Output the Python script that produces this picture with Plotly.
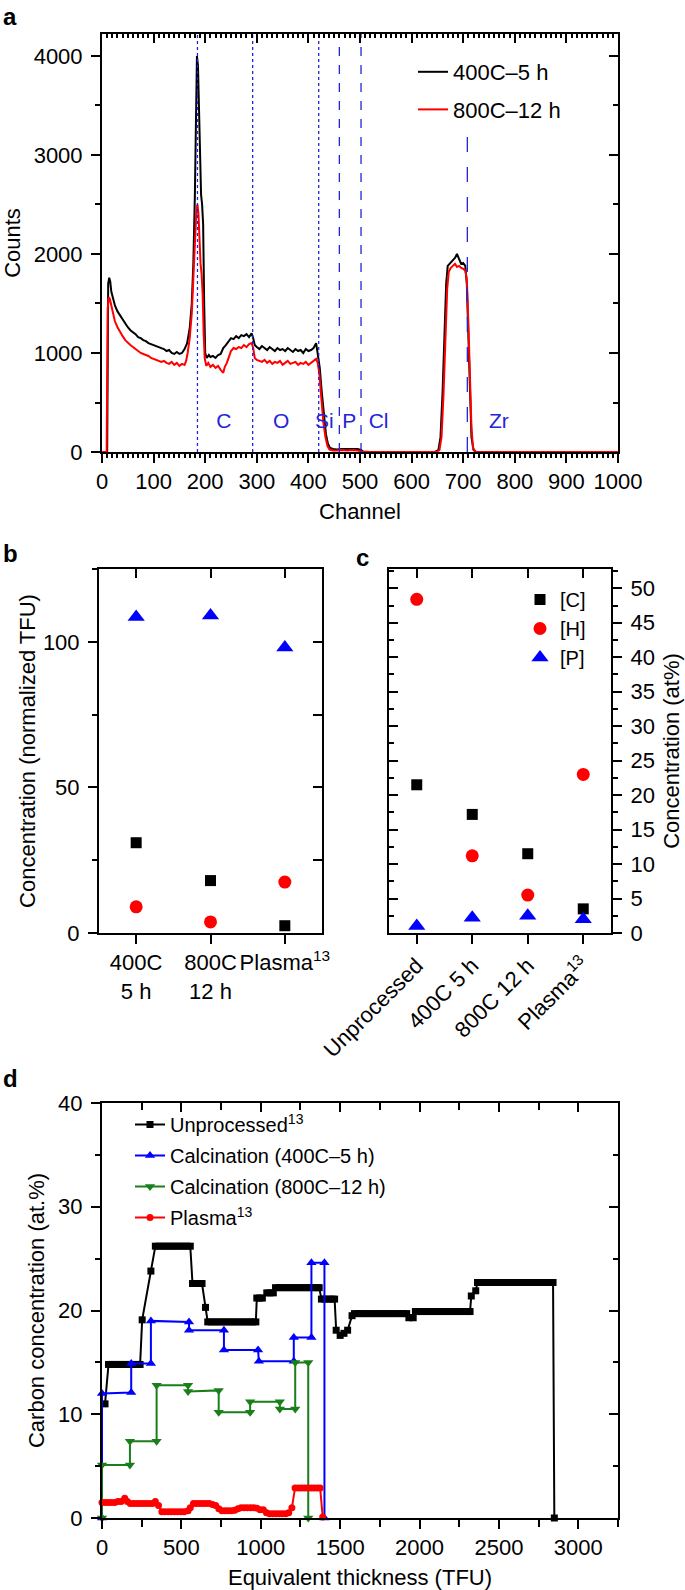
import plotly.graph_objects as go

W, H = 685, 1590


def px(x):
    return x / W


def py(y):
    return 1 - y / H


# ---------------- Panel a: RBS spectra ----------------
ch_400 = [0, 10, 12, 14, 16, 18, 21, 25, 30, 35,
          40, 45, 50, 55, 60, 65, 70, 75, 80, 85,
          90, 95, 100, 105, 110, 115, 120, 125, 130, 135,
          140, 145, 150, 155, 160, 165, 170, 174, 177, 180,
          182, 184, 186, 188, 190, 192, 194, 196, 198, 200,
          203, 207, 210, 215, 220, 225, 230, 235, 240, 245,
          250, 255, 260, 265, 270, 275, 280, 285, 290, 293,
          296, 300, 305, 310, 315, 320, 325, 330, 335, 340,
          345, 350, 355, 360, 365, 370, 375, 380, 385, 390,
          395, 400, 405, 410, 415, 418, 422, 426, 430, 434,
          438, 442, 448, 455, 465, 475, 485, 495, 502, 506,
          520, 600, 645, 652, 656, 660, 664, 667, 670, 675,
          680, 684, 688, 692, 696, 700, 704, 707, 710, 713,
          716, 720, 725, 1000]
cnt_400 = [0, 0, 1700, 1760, 1720, 1620, 1560, 1480, 1420, 1380,
           1330, 1290, 1260, 1230, 1210, 1190, 1160, 1150, 1130, 1120,
           1100, 1090, 1080, 1070, 1060, 1050, 1040, 1020, 1030, 1000,
           990, 1010, 990, 1000, 1040, 1100, 1250, 1500, 1900, 2600,
           3400, 4000, 3900, 3500, 3000, 2600, 2500, 2300, 1500, 1000,
           950, 980, 960, 970, 950, 980, 990, 1050, 1080, 1120,
           1150, 1140, 1170, 1150, 1180, 1170, 1190, 1160, 1200, 1150,
           1080, 1060, 1040, 1070, 1050, 1030, 1060, 1040, 1020, 1050,
           1030, 1040, 1020, 1050, 1030, 1010, 1040, 1020, 1030, 1000,
           1040, 1020, 1030, 1050, 1100, 1000, 850, 600, 350, 180,
           80, 40, 30, 25, 30, 30, 25, 30, 20, 5,
           0, 0, 0, 20, 150, 600, 1200, 1700, 1880, 1910,
           1940, 1960, 2000, 1940, 1900, 1910, 1880, 1700, 1100, 500,
           150, 20, 0, 0]

ch_800 = [0, 9, 11, 13, 15, 18, 21, 25, 30, 35,
          40, 45, 50, 55, 60, 65, 70, 75, 80, 85,
          90, 95, 100, 105, 110, 115, 120, 125, 130, 135,
          140, 145, 150, 155, 160, 163, 166, 170, 174, 177,
          180, 183, 185, 187, 189, 191, 193, 195, 197, 199,
          202, 206, 210, 215, 220, 225, 230, 235, 238, 242,
          246, 250, 255, 260, 265, 270, 275, 280, 285, 290,
          293, 296, 300, 305, 310, 315, 320, 325, 330, 335,
          340, 345, 350, 355, 360, 365, 370, 375, 380, 385,
          390, 395, 400, 405, 410, 415, 418, 421, 425, 429,
          433, 437, 441, 448, 455, 465, 475, 485, 495, 502,
          506, 600, 648, 654, 658, 662, 666, 669, 672, 676,
          680, 684, 688, 692, 696, 700, 704, 707, 710, 713,
          716, 719, 724, 1000]
cnt_800 = [0, 0, 1450, 1560, 1550, 1480, 1400, 1320, 1260, 1210,
           1170, 1130, 1100, 1080, 1060, 1040, 1020, 1000, 990, 980,
           970, 950, 940, 930, 920, 910, 920, 900, 890, 910,
           880, 900, 870, 890, 880, 920, 1000, 1150, 1400, 1700,
           2100, 2450, 2500, 2400, 2100, 1900, 1800, 1600, 1200, 950,
           870, 900, 860, 880, 850, 870, 830, 800, 860, 900,
           960, 1020, 1050, 1040, 1060, 1050, 1080, 1060, 1090, 1100,
           1050, 950, 930, 920, 910, 930, 900, 920, 890, 910,
           900, 920, 880, 900, 920, 890, 900, 910, 880, 900,
           890, 910, 880, 900, 920, 940, 900, 800, 550, 300,
           150, 60, 25, 15, 15, 20, 15, 20, 15, 10,
           0, 0, 0, 20, 150, 600, 1200, 1650, 1820, 1860,
           1880, 1900, 1870, 1880, 1860, 1850, 1830, 1750, 1300, 700,
           250, 40, 0, 0]

edge_channels = [185, 292, 420, 460, 502, 708]
edge_top = [4222, 4222, 4222, 4222, 4222, 3330]
edge_dash = ["dot", "dot", "dot", "dash", "dash", "longdash"]
elem_labels = ["C", "O", "Si", "P", "Cl", "Zr"]
elem_ch = [236, 347, 431, 479, 536, 769]
elem_counts = [300, 300, 300, 300, 300, 300]

# ---------------- Panel b ----------------
b_cats = ["400C<br>5 h", "800C<br>12 h", "Plasma<sup>13</sup>"]
b_C = [31, 18, 2.5]
b_H = [9, 3.8, 17.5]
b_P = [108.5, 109, 98]

# ---------------- Panel c ----------------
c_cats = ["Unprocessed", "400C 5 h", "800C 12 h", "Plasma<sup>13</sup>"]
c_C = [21.5, 17.2, 11.5, 3.5]
c_H = [48.4, 11.2, 5.5, 23.0]
c_P = [1.0, 2.2, 2.5, 2.0]

# ---------------- Panel d ----------------
d_unproc_x = [19, 41, 60, 80, 100, 120, 140, 160, 180, 200,
              220, 240, 253, 308, 336, 358, 380, 402, 424, 446,
              468, 490, 512, 534, 556, 570, 590, 610, 630, 652,
              666, 688, 710, 732, 754, 776, 798, 820, 842, 864,
              886, 908, 930, 950, 969, 975, 992, 1010, 1038, 1058,
              1079, 1093, 1115, 1137, 1159, 1181, 1203, 1225, 1247, 1269,
              1291, 1313, 1335, 1357, 1368, 1382, 1404, 1426, 1448, 1465,
              1475, 1500, 1524, 1547, 1575, 1590, 1612, 1634, 1656, 1678,
              1700, 1722, 1744, 1766, 1788, 1810, 1832, 1854, 1876, 1898,
              1919, 1933, 1960, 1974, 1996, 2018, 2040, 2062, 2084, 2106,
              2128, 2150, 2172, 2194, 2216, 2238, 2260, 2282, 2304, 2318,
              2326, 2354, 2365, 2387, 2409, 2431, 2453, 2475, 2497, 2519,
              2541, 2563, 2585, 2607, 2629, 2651, 2673, 2695, 2717, 2739,
              2761, 2783, 2805, 2827, 2841, 2849]
d_unproc_y = [11.0, 14.8, 14.8, 14.8, 14.8, 14.8, 14.8, 14.8, 14.8, 14.8,
              14.8, 14.8, 19.1, 23.8, 26.2, 26.2, 26.2, 26.2, 26.2, 26.2,
              26.2, 26.2, 26.2, 26.2, 26.2, 22.6, 22.6, 22.6, 22.6, 20.3,
              18.9, 18.9, 18.9, 18.9, 18.9, 18.9, 18.9, 18.9, 18.9, 18.9,
              18.9, 18.9, 18.9, 18.9, 18.9, 21.2, 21.2, 21.2, 21.7, 21.7,
              21.7, 22.2, 22.2, 22.2, 22.2, 22.2, 22.2, 22.2, 22.2, 22.2,
              22.2, 22.2, 22.2, 22.2, 22.2, 21.1, 21.1, 21.1, 21.1, 21.1,
              18.1, 17.6, 17.8, 18.1, 19.5, 19.7, 19.7, 19.7, 19.7, 19.7,
              19.7, 19.7, 19.7, 19.7, 19.7, 19.7, 19.7, 19.7, 19.7, 19.7,
              19.7, 19.3, 19.3, 19.9, 19.9, 19.9, 19.9, 19.9, 19.9, 19.9,
              19.9, 19.9, 19.9, 19.9, 19.9, 19.9, 19.9, 19.9, 19.9, 19.9,
              21.4, 21.9, 22.7, 22.7, 22.7, 22.7, 22.7, 22.7, 22.7, 22.7,
              22.7, 22.7, 22.7, 22.7, 22.7, 22.7, 22.7, 22.7, 22.7, 22.7,
              22.7, 22.7, 22.7, 22.7, 22.7, 0.0]

d_c400_x = [0, 0, 184, 184, 308, 308, 548, 548, 768, 768, 983, 988, 1208, 1208, 1319, 1319, 1401, 1401]
d_c400_y = [0, 12.0, 12.1, 14.9, 14.9, 19.0, 18.9, 18.1, 18.1, 16.2, 16.2, 15.1, 15.1, 17.4, 17.4, 24.6, 24.6, 0]

d_c800_x = [0, 0, 176, 176, 344, 344, 542, 542, 735, 735, 933, 933, 1120, 1120, 1217, 1217, 1299, 1299]
d_c800_y = [0, 5.1, 5.1, 7.4, 7.4, 12.8, 12.8, 12.2, 12.3, 10.2, 10.2, 11.2, 11.2, 10.5, 10.5, 15.0, 15.0, 0]

d_plasma_x = [0, 20, 40, 60, 80, 100, 120, 143, 160, 178,
              198, 218, 238, 258, 278, 298, 318, 336, 356, 377,
              397, 417, 437, 457, 477, 497, 517, 542, 556, 576,
              596, 616, 636, 656, 676, 696, 716, 736, 756, 776,
              796, 816, 836, 856, 876, 896, 916, 936, 956, 976,
              996, 1016, 1036, 1056, 1076, 1096, 1116, 1136, 1156, 1176,
              1196, 1216, 1236, 1256, 1276, 1296, 1316, 1336, 1356, 1374,
              1390]
d_plasma_y = [1.5, 1.5, 1.5, 1.5, 1.5, 1.6, 1.6, 1.9, 1.6, 1.4,
              1.4, 1.4, 1.4, 1.4, 1.4, 1.4, 1.4, 1.6, 1.2, 0.6,
              0.6, 0.6, 0.6, 0.6, 0.6, 0.6, 0.6, 0.7, 1.0, 1.4,
              1.4, 1.4, 1.4, 1.4, 1.4, 1.3, 1.2, 0.9, 0.7, 0.7,
              0.7, 0.7, 0.75, 0.9, 1.0, 1.0, 1.0, 1.0, 1.0, 0.95,
              0.8, 0.8, 0.5, 0.4, 0.4, 0.4, 0.4, 0.4, 0.4, 0.5,
              1.0, 2.9, 2.9, 2.9, 2.9, 2.9, 2.9, 2.9, 2.9, 2.9,
              0.1]

BLUE = "#0000ff"
RED = "#ff0000"
GREEN = "#1a7f1a"
EDGE = "#2424d8"
FONT = "Liberation Sans, Arial, Helvetica, sans-serif"
FS = 22
TL = 9

fig = go.Figure()

# ---- panel a traces ----
fig.add_trace(go.Scatter(x=ch_400, y=cnt_400, mode="lines", name="400C–5 h",
                         line=dict(color="black", width=2), xaxis="x", yaxis="y",
                         legend="legend", legendgroup="a1"))
fig.add_trace(go.Scatter(x=ch_800, y=cnt_800, mode="lines", name="800C–12 h",
                         line=dict(color=RED, width=2), xaxis="x", yaxis="y",
                         legend="legend", legendgroup="a2"))
for c, top, dash in zip(edge_channels, edge_top, edge_dash):
    fig.add_trace(go.Scatter(x=[c, c], y=[0, top], mode="lines",
                             line=dict(color=EDGE, width=1.3, dash=dash),
                             xaxis="x", yaxis="y", showlegend=False, hoverinfo="skip"))
fig.add_trace(go.Scatter(x=elem_ch, y=elem_counts, mode="text", text=elem_labels,
                         textfont=dict(color=EDGE, size=21, family=FONT),
                         xaxis="x", yaxis="y", showlegend=False, hoverinfo="skip"))

# ---- panel b traces ----
fig.add_trace(go.Scatter(x=b_cats, y=b_C, mode="markers", xaxis="x3", yaxis="y3",
                         marker=dict(symbol="square", size=11, color="black"),
                         showlegend=False, cliponaxis=False))
fig.add_trace(go.Scatter(x=b_cats, y=b_H, mode="markers", xaxis="x3", yaxis="y3",
                         marker=dict(symbol="circle", size=13, color=RED),
                         showlegend=False, cliponaxis=False))
fig.add_trace(go.Scatter(x=b_cats, y=b_P, mode="markers", xaxis="x3", yaxis="y3",
                         marker=dict(symbol="triangle-up", size=15, color=BLUE),
                         showlegend=False, cliponaxis=False))

# ---- panel c traces ----
fig.add_trace(go.Scatter(x=c_cats, y=c_C, mode="markers", xaxis="x5", yaxis="y5", name="[C]",
                         marker=dict(symbol="square", size=11, color="black"),
                         legend="legend2", cliponaxis=False))
fig.add_trace(go.Scatter(x=c_cats, y=c_H, mode="markers", xaxis="x5", yaxis="y5", name="[H]",
                         marker=dict(symbol="circle", size=13, color=RED),
                         legend="legend2", cliponaxis=False))
fig.add_trace(go.Scatter(x=c_cats, y=c_P, mode="markers", xaxis="x5", yaxis="y5", name="[P]",
                         marker=dict(symbol="triangle-up", size=15, color=BLUE),
                         legend="legend2", cliponaxis=False))

# ---- panel d traces ----
fig.add_trace(go.Scatter(x=d_unproc_x, y=d_unproc_y, mode="lines+markers", name="Unprocessed<sup>13</sup>",
                         line=dict(color="black", width=2), marker=dict(symbol="square", size=7, color="black"),
                         xaxis="x7", yaxis="y7", legend="legend3", legendgroup="d1", cliponaxis=False))
fig.add_trace(go.Scatter(x=d_c400_x, y=d_c400_y, mode="lines+markers", name="Calcination (400C–5 h)",
                         line=dict(color=BLUE, width=2), marker=dict(symbol="triangle-up", size=9, color=BLUE),
                         xaxis="x7", yaxis="y7", legend="legend3", legendgroup="d2", cliponaxis=False))
fig.add_trace(go.Scatter(x=d_c800_x, y=d_c800_y, mode="lines+markers", name="Calcination (800C–12 h)",
                         line=dict(color=GREEN, width=2), marker=dict(symbol="triangle-down", size=9, color=GREEN),
                         xaxis="x7", yaxis="y7", legend="legend3", legendgroup="d3", cliponaxis=False))
fig.add_trace(go.Scatter(x=d_plasma_x, y=d_plasma_y, mode="lines+markers", name="Plasma<sup>13</sup>",
                         line=dict(color=RED, width=2), marker=dict(symbol="circle", size=7, color=RED),
                         xaxis="x7", yaxis="y7", legend="legend3", legendgroup="d4", cliponaxis=False))

# dummy traces so the mirrored (inward-tick) overlay axes are drawn
for xa, ya in [("x2", "y2"), ("x4", "y4"), ("x6", "y6"), ("x8", "y8")]:
    fig.add_trace(go.Scatter(x=[None], y=[None], xaxis=xa, yaxis=ya, showlegend=False, hoverinfo="skip"))


def main_ax(**kw):
    d = dict(showline=True, linewidth=2, linecolor="black", mirror=True,
             ticks="outside", ticklen=TL, tickwidth=2, tickcolor="black",
             showgrid=False, zeroline=False, tickfont=dict(size=FS, family=FONT, color="black"),
             fixedrange=True, automargin=False, ticklabelstandoff=4)
    d.update(kw)
    return d


def over_ax(**kw):
    d = dict(showline=False, ticks="inside", ticklen=TL, tickwidth=2, tickcolor="black",
             showgrid=False, zeroline=False, showticklabels=False, fixedrange=True, automargin=False)
    d.update(kw)
    return d


def minor(dt, ticks, ln=5):
    return dict(dtick=dt, ticks=ticks, ticklen=ln, tickwidth=1.5, tickcolor="black", showgrid=False)


def title(t, so):
    return dict(text=t, standoff=so, font=dict(size=FS, family=FONT, color="black"))


def letter(t, x, y):
    return dict(text="<b>" + t + "</b>", x=px(x), y=py(y), xref="paper", yref="paper",
                xanchor="center", yanchor="middle", showarrow=False,
                font=dict(size=24, family=FONT, color="black"))


dom_a_x = [px(102), px(618)]
dom_a_y = [py(452), py(34)]
dom_b_x = [px(99), px(322)]
dom_bc_y = [py(933), py(569)]
dom_c_x = [px(389), px(611)]
dom_d_x = [px(102), px(618)]
dom_d_y = [py(1518), py(1103)]

XS = 0  # label standoff for bottom axes

fig.update_layout(
    width=W, height=H, margin=dict(l=0, r=0, t=0, b=0, autoexpand=False),
    paper_bgcolor="white", plot_bgcolor="white", hovermode=False,
    font=dict(family=FONT, size=FS, color="black"),
    # panel a
    xaxis=main_ax(domain=dom_a_x, anchor="y", range=[0, 1000], tick0=0, dtick=100, ticklabelstandoff=XS,
                  minor=minor(10, "outside", 4), title=title("Channel", 10)),
    yaxis=main_ax(domain=dom_a_y, anchor="x", range=[0, 4222], tick0=0, dtick=1000,
                  minor=minor(500, "outside"), title=title("Counts", 14)),
    xaxis2=over_ax(overlaying="x", side="top", anchor="y", range=[0, 1000], tick0=0, dtick=100,
                   minor=minor(10, "inside", 4)),
    yaxis2=over_ax(overlaying="y", side="right", anchor="x", range=[0, 4222], tick0=0, dtick=1000,
                   minor=minor(500, "inside")),
    # panel b
    xaxis3=main_ax(domain=dom_b_x, anchor="y3", type="category", categoryorder="array",
                   categoryarray=b_cats, range=[-0.5, 2.5], tickangle=0, ticklabelstandoff=XS),
    yaxis3=main_ax(domain=dom_bc_y, anchor="x3", range=[0, 125], tick0=0, dtick=50,
                   minor=minor(25, "outside"), title=title("Concentration (normalized TFU)", 1)),
    xaxis4=over_ax(overlaying="x3", side="top", anchor="y3", range=[-0.5, 2.5], tickvals=[0, 1, 2]),
    yaxis4=over_ax(overlaying="y3", side="right", anchor="x3", range=[0, 125], tick0=0, dtick=25),
    # panel c
    xaxis5=main_ax(domain=dom_c_x, anchor="y5", type="category", categoryorder="array",
                   categoryarray=c_cats, range=[-0.5, 3.5], tickangle=-45, ticklabelstandoff=XS),
    yaxis5=main_ax(domain=dom_bc_y, anchor="x5", side="right", range=[0, 52.8], tick0=0, dtick=5,
                   minor=minor(2.5, "outside"), title=title("Concentration (at%)", 10)),
    xaxis6=over_ax(overlaying="x5", side="top", anchor="y5", range=[-0.5, 3.5], tickvals=[0, 1, 2, 3]),
    yaxis6=over_ax(overlaying="y5", side="left", anchor="x5", range=[0, 52.8], tick0=0, dtick=5,
                   minor=minor(2.5, "inside")),
    # panel d
    xaxis7=main_ax(domain=dom_d_x, anchor="y7", range=[0, 3250], tick0=0, dtick=500, ticklabelstandoff=XS,
                   minor=minor(250, "outside", 7), title=title("Equivalent thickness (TFU)", 13)),
    yaxis7=main_ax(domain=dom_d_y, anchor="x7", range=[0, 40], tick0=0, dtick=10,
                   minor=minor(5, "outside"), title=title("Carbon concentration (at.%)", 7)),
    xaxis8=over_ax(overlaying="x7", side="top", anchor="y7", range=[0, 3250], tick0=0, dtick=500,
                   minor=minor(250, "inside", 7)),
    yaxis8=over_ax(overlaying="y7", side="right", anchor="x7", range=[0, 40], tick0=0, dtick=10,
                   minor=minor(5, "inside")),
    legend=dict(x=px(413), y=py(51), xanchor="left", yanchor="top", bgcolor="rgba(0,0,0,0)",
                font=dict(size=22, family=FONT), traceorder="grouped", tracegroupgap=6),
    legend2=dict(x=px(520), y=py(580), xanchor="left", yanchor="top", bgcolor="rgba(0,0,0,0)",
                 font=dict(size=20, family=FONT), traceorder="normal"),
    legend3=dict(x=px(130), y=py(1105), xanchor="left", yanchor="top", bgcolor="rgba(0,0,0,0)",
                 font=dict(size=20, family=FONT), traceorder="grouped", tracegroupgap=2),
    annotations=[
        letter("a", 10, 17),
        letter("b", 10, 553),
        letter("c", 362, 557),
        letter("d", 10, 1078),
    ],
)

fig.write_html("out.html", config={"displayModeBar": False},
               post_script="document.body.style.margin='0px';document.body.style.padding='0px';")
